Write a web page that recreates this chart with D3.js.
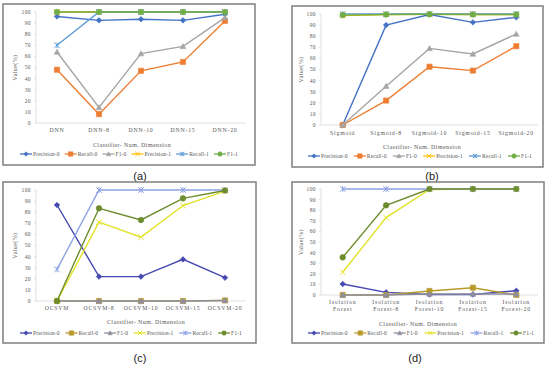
<!DOCTYPE html>
<html>
<head>
<meta charset="utf-8">
<script src="https://cdn.jsdelivr.net/npm/d3@7"></script>
<style>
body { margin: 0; background: #fff; }
svg { display: block; }
.tick-lbl, .ax-title, .leg-lbl { font-family: "Liberation Serif", "DejaVu Serif", serif; fill: #595959; letter-spacing: 0.4px; }
.x-lbl { letter-spacing: 0.8px; }
.leg-lbl { letter-spacing: 0.1px; }
.panel-lbl { font-family: "Liberation Sans", Arial, sans-serif; font-size: 11px; fill: #222; }
</style>
</head>
<body>
<svg id="chart" width="550" height="365"></svg>
<script>
var series_names = ["Precision-0", "Recall-0", "F1-0", "Precision-1", "Recall-1", "F1-1"];
var y_ticks = [0, 10, 20, 30, 40, 50, 60, 70, 80, 90, 100];

// (a) DNN
var cats_a = ["DNN", "DNN-8", "DNN-10", "DNN-15", "DNN-20"];
var prec0_a = [96, 92.5, 93.5, 92.5, 98];
var rec0_a = [48, 8, 47, 55, 92];
var f10_a = [64, 14, 62.5, 69, 95];
var prec1_a = [100, 100, 100, 100, 100];
var rec1_a = [70, 100, 100, 100, 100];
var f11_a = [100, 100, 100, 100, 100];

// (b) Sigmoid
var cats_b = ["Sigmoid", "Sigmoid-8", "Sigmoid-10", "Sigmoid-15", "Sigmoid-20"];
var prec0_b = [0, 90, 99.5, 92.5, 97];
var rec0_b = [0, 22, 52.5, 49, 71];
var f10_b = [0, 35, 69, 64, 82];
var prec1_b = [98.5, 99.5, 99.8, 99.5, 99.5];
var rec1_b = [100, 100, 100, 100, 100];
var f11_b = [99, 99.6, 99.8, 99.6, 99.6];

// (c) OCSVM
var cats_c = ["OCSVM", "OCSVM-8", "OCSVM-10", "OCSVM-15", "OCSVM-20"];
var prec0_c = [86.5, 22, 22, 37.5, 21];
var rec0_c = [0, 0, 0, 0, 0.5];
var f10_c = [0, 0, 0, 0, 0.5];
var prec1_c = [0, 71, 57.5, 86, 99];
var rec1_c = [28.5, 100, 100, 100, 100];
var f11_c = [0, 83.5, 73, 92.5, 99.5];

// (d) Isolation Forest
var cats_d = ["Isolation\nForest", "Isolation\nForest-8", "Isolation\nForest-10", "Isolation\nForest-15", "Isolation\nForest-20"];
var prec0_d = [10.4, 2.5, 0.5, 0.5, 4];
var rec0_d = [0, 0, 3.8, 6.9, 0];
var f10_d = [0, 0, 1, 1, 1];
var prec1_d = [21.5, 73, 99.5, 100, 100];
var rec1_d = [100, 100, 100, 100, 100];
var f11_d = [35.5, 84.6, 100, 100, 100];

var office_colors = ["#4472C4", "#ED7D31", "#A5A5A5", "#FFC000", "#5B9BD5", "#70AD47"];
var alt_colors = ["#4548B0", "#B89B2C", "#8E8E9E", "#E2E22A", "#8DA2E6", "#6C8C2E"];
var markers = ["diamond", "square", "triangle", "x", "star", "circle"];

var svg = d3.select("#chart");

var panels = [
	{ frame: [3, 4, 255, 165], x: [36, 246], y: [123, 12], cats: cats_a, data: [prec0_a, rec0_a, f10_a, prec1_a, rec1_a, f11_a], colors: office_colors, ytitle_x: 15, xlab_y: 130, title_y: 145, title_cx: 132, leg_y: 154, leg_x: [20, 238], lbl: "(a)", lbl_x: 140, lbl_y: 176 },
	{ frame: [292, 6, 543, 167], x: [321, 538], y: [125, 14], cats: cats_b, data: [prec0_b, rec0_b, f10_b, prec1_b, rec1_b, f11_b], colors: office_colors, ytitle_x: 301, xlab_y: 133, title_y: 147, title_cx: 422, leg_y: 156, leg_x: [308, 532], lbl: "(b)", lbl_x: 432, lbl_y: 176 },
	{ frame: [3, 182, 256, 343], x: [36, 246], y: [301, 190], cats: cats_c, data: [prec0_c, rec0_c, f10_c, prec1_c, rec1_c, f11_c], colors: alt_colors, ytitle_x: 15, xlab_y: 308, title_y: 322, title_cx: 146, leg_y: 333, leg_x: [20, 242], lbl: "(c)", lbl_x: 140, lbl_y: 358 },
	{ frame: [292, 182, 544, 343], x: [321, 538], y: [295, 189], cats: cats_d, data: [prec0_d, rec0_d, f10_d, prec1_d, rec1_d, f11_d], colors: alt_colors, ytitle_x: 301, xlab_y: 302, title_y: 324, title_cx: 418, leg_y: 333, leg_x: [308, 534], lbl: "(d)", lbl_x: 415, lbl_y: 358 }
];

panels.forEach(drawPanel);

function markerPath(type, size){
	var s = size;
	if (type == "diamond") return "M0," + (-s) + "L" + s + ",0L0," + s + "L" + (-s) + ",0Z";
	if (type == "square") return "M" + (-s) + "," + (-s) + "h" + (2 * s) + "v" + (2 * s) + "h" + (-2 * s) + "Z";
	if (type == "triangle") return "M0," + (-s) + "L" + s + "," + (s * 0.8) + "L" + (-s) + "," + (s * 0.8) + "Z";
	if (type == "x") return "M" + (-s) + "," + (-s) + "L" + s + "," + s + "M" + s + "," + (-s) + "L" + (-s) + "," + s;
	if (type == "star") return "M" + (-s) + "," + (-s) + "L" + s + "," + s + "M" + s + "," + (-s) + "L" + (-s) + "," + s + "M0," + (-s) + "V" + s;
	return "M" + s + ",0A" + s + "," + s + " 0 1,1 " + (-s) + ",0A" + s + "," + s + " 0 1,1 " + s + ",0Z";
}

function drawMarker(g, type, color, x, y, size){
	var open = (type == "x" || type == "star");
	size = size || (type == "square" ? 2.6 : 2.8);
	g.append("path")
			.attr("transform", "translate(" + x + "," + y + ")")
			.attr("d", markerPath(type, size))
			.attr("fill", open ? "none" : color)
			.attr("stroke", color)
			.attr("stroke-width", open ? 1 : 0.6);
}

function drawPanel(p){
	var g = svg.append("g");

	// frame
	g.append("rect")
			.attr("x", p.frame[0])
			.attr("y", p.frame[1])
			.attr("width", p.frame[2] - p.frame[0])
			.attr("height", p.frame[3] - p.frame[1])
			.attr("fill", "#fff")
			.attr("stroke", "#7f7f7f")
			.attr("stroke-width", 1.5);

	var x = d3.scalePoint()
			.domain(p.cats)
			.range(p.x)
			.padding(0.5);

	var y = d3.scaleLinear()
			.domain([0, 100])
			.range(p.y);

	// y axis
	g.append("line")
			.attr("x1", p.x[0]).attr("x2", p.x[0])
			.attr("y1", y(0)).attr("y2", y(100))
			.attr("stroke", "#d9d9d9").attr("stroke-width", 0.8);

	g.selectAll(".ytk")
			.data(y_ticks)
		.enter().append("line")
			.attr("x1", p.x[0] - 2).attr("x2", p.x[0])
			.attr("y1", function(d){ return y(d); })
			.attr("y2", function(d){ return y(d); })
			.attr("stroke", "#d9d9d9").attr("stroke-width", 0.8);

	g.selectAll(".ylbl")
			.data(y_ticks)
		.enter().append("text")
			.attr("class", "tick-lbl")
			.attr("x", p.x[0] - 5)
			.attr("y", function(d){ return y(d); })
			.attr("dy", "0.35em")
			.attr("text-anchor", "end")
			.style("font-size", "5.5px")
			.text(function(d){ return d; });

	// x axis
	g.append("line")
			.attr("x1", p.x[0]).attr("x2", p.x[1])
			.attr("y1", y(0)).attr("y2", y(0))
			.attr("stroke", "#d9d9d9").attr("stroke-width", 0.8);

	p.cats.forEach(function(c){
		var lines = c.split("\n");
		var t = g.append("text")
				.attr("class", "tick-lbl x-lbl")
				.attr("x", x(c))
				.attr("y", p.xlab_y)
				.attr("text-anchor", "middle")
				.style("font-size", "5.8px");
		lines.forEach(function(l, i){
			t.append("tspan")
					.attr("x", x(c))
					.attr("dy", i == 0 ? "0.35em" : "7px")
					.text(l);
		});
	});

	// axis titles
	g.append("text")
			.attr("class", "ax-title")
			.attr("x", p.title_cx)
			.attr("y", p.title_y)
			.attr("dy", "0.35em")
			.attr("text-anchor", "middle")
			.style("font-size", "6px")
			.text("Classifier- Num. Dimension");

	g.append("text")
			.attr("class", "ax-title")
			.attr("transform", "translate(" + p.ytitle_x + "," + ((y(0) + y(100)) / 2) + ") rotate(-90)")
			.attr("dy", "0.35em")
			.attr("text-anchor", "middle")
			.style("font-size", "6px")
			.text("Value(%)");

	// series
	var line = d3.line()
			.x(function(d, i){ return x(p.cats[i]); })
			.y(function(d){ return y(d); });

	p.data.forEach(function(vals, si){
		g.append("path")
				.attr("d", line(vals))
				.attr("fill", "none")
				.attr("stroke", p.colors[si])
				.attr("stroke-width", 1.4);
		vals.forEach(function(v, i){
			drawMarker(g, markers[si], p.colors[si], x(p.cats[i]), y(v));
		});
	});

	// legend, spread over leg_x
	var leg = g.append("g").attr("transform", "translate(" + p.leg_x[0] + "," + p.leg_y + ")");
	var items = [], used = 0;
	series_names.forEach(function(name, si){
		var item = leg.append("g");
		item.append("line")
				.attr("x1", 0).attr("x2", 12)
				.attr("y1", 0).attr("y2", 0)
				.attr("stroke", p.colors[si])
				.attr("stroke-width", 1.3);
		drawMarker(item, markers[si], p.colors[si], 6, 0, 2.2);
		var t = item.append("text")
				.attr("class", "leg-lbl")
				.attr("x", 13)
				.attr("dy", "0.35em")
				.style("font-size", "5.6px")
				.text(name);
		var w = 13 + t.node().getComputedTextLength();
		items.push({ g: item, w: w });
		used += w;
	});
	var gap = (p.leg_x[1] - p.leg_x[0] - used) / (items.length - 1);
	var cx = 0;
	items.forEach(function(it){
		it.g.attr("transform", "translate(" + cx + ",0)");
		cx += it.w + gap;
	});

	// panel label
	svg.append("text")
			.attr("class", "panel-lbl")
			.attr("x", p.lbl_x)
			.attr("y", p.lbl_y)
			.attr("dy", "0.35em")
			.attr("text-anchor", "middle")
			.text(p.lbl);
}
</script>
</body>
</html>
